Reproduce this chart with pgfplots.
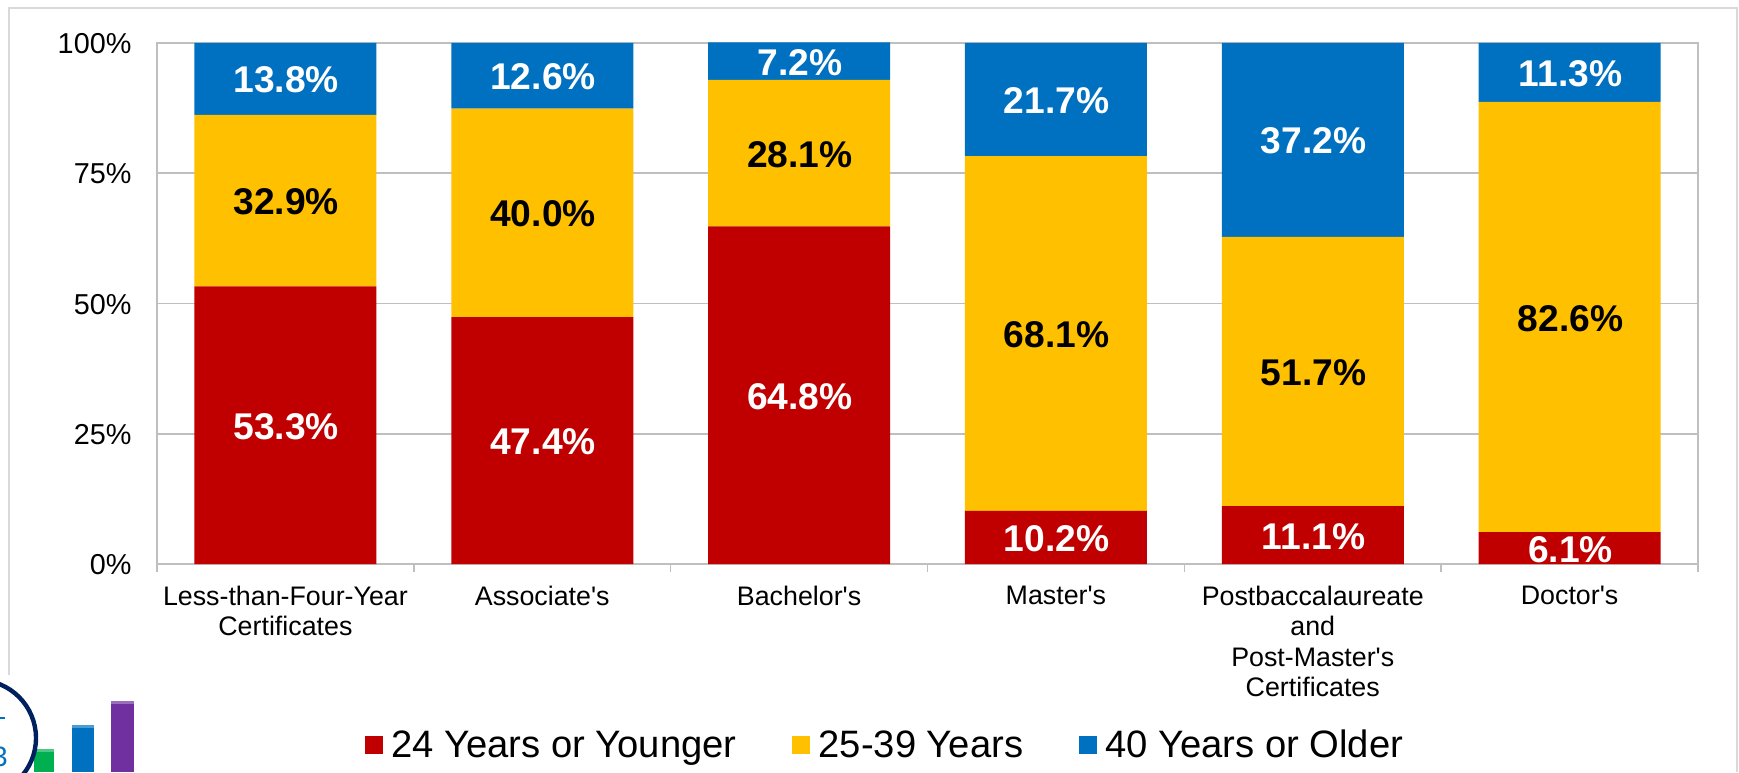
\documentclass[border=0pt]{standalone}
\usepackage{pgfplots}
\pgfplotsset{compat=1.18}
\usepackage{fontspec}
\setmainfont[Ligatures=TeXOff]{Liberation Sans}
\definecolor{cRed}{HTML}{C00000}
\definecolor{cYel}{HTML}{FFC000}
\definecolor{cBlu}{HTML}{0070C0}
\definecolor{cGrid}{HTML}{BFBFBF}
\definecolor{cFrame}{HTML}{D9D9D9}
\definecolor{cGrn}{HTML}{00B050}
\definecolor{cPur}{HTML}{7030A0}
\definecolor{cNavy}{HTML}{002060}
\pgfplotstableread{
x v24 v25 v40
0 53.3 32.9 13.8
1 47.4 40.0 12.6
2 64.8 28.1 7.2
3 10.2 68.1 21.7
4 11.1 51.7 37.2
5 6.1 82.6 11.3
}\shares
\pgfplotstableread{
x y v
0 26.65 53.3
1 23.7 47.4
2 32.4 64.8
3 5.1 10.2
4 5.55 11.1
5 3.05 6.1
}\labA
\pgfplotstableread{
x y v
0 69.75 32.9
1 67.4 40.0
2 78.85 28.1
3 44.25 68.1
4 36.95 51.7
5 47.4 82.6
}\labB
\pgfplotstableread{
x y v
0 93.1 13.8
1 93.7 12.6
2 96.4 7.2
3 89.15 21.7
4 81.4 37.2
5 94.35 11.3
}\labC
\begin{document}
\begin{tikzpicture}[x=0.5pt,y=0.5pt]
\path[use as bounding box] (0,0) rectangle (1739,772);
% frame
\draw[cFrame,line width=0.8pt] (9,97) -- (9,764) -- (1737,764) -- (1737,0);
% logo fragment
\begin{scope}
\clip (0,0) rectangle (1739,772);
\fill[cGrn] (34,0) rectangle (54,23);
\fill[cGrn!70!white] (34,20) rectangle (54,23);
\fill[cBlu] (72,0) rectangle (94,47);
\fill[cBlu!70!white] (72,44) rectangle (94,47);
\fill[cPur] (111,0) rectangle (134,71);
\fill[cPur!70!white] (111,68) rectangle (134,71);
\fill[white] (-22,34) circle (58);
\draw[cNavy,line width=2.2pt] (-22,34) circle (58);
\fill[cBlu] (0,53) rectangle (5,55);
\node[text=cBlu,font=\fontsize{14}{14}\selectfont,anchor=east,inner sep=0pt] at (8,15) {3};
\end{scope}
\begin{axis}[
  at={(78.5pt,104pt)}, anchor=south west,
  scale only axis, width=770.5pt, height=260.5pt,
  ybar stacked, bar width=91pt,
  xmin=-0.5, xmax=5.5, ymin=0, ymax=100,
  xtick={0,1,2,3,4,5},
  xticklabels={{Less-than-Four-Year\\Certificates},{Associate's},{Bachelor's},{Master's},{Postbaccalaureate\\and\\Post-Master's\\Certificates},{Doctor's}},
  minor xtick={-0.5,0.5,1.5,2.5,3.5,4.5,5.5},
  ytick={0,25,50,75,100},
  yticklabels={0\%,25\%,50\%,75\%,100\%},
  major tick length=0pt,
  minor tick length=4pt,
  tick align=outside,
  xtick pos=bottom, ytick pos=left,
  minor tick style={cGrid,line width=0.75pt},
  axis line style={cGrid,line width=0.75pt},
  ymajorgrids, grid style={cGrid,line width=0.75pt},
  x tick label style={font=\fontsize{13.4}{15.3}\selectfont,align=center,anchor=north,yshift=-10.6pt,inner sep=0pt},
  y tick label style={font=\fontsize{14.4}{14.4}\selectfont,anchor=east,xshift=-12.6pt,yshift=-0.4pt,inner sep=0pt},
  legend style={at={(0.473,-0.348)},anchor=center,draw=none,fill=none,legend columns=3,
    font=\fontsize{19.1}{20}\selectfont,inner sep=0pt,
    /tikz/every even column/.append style={column sep=25.8pt},
    /tikz/every odd column/.append style={column sep=2.2pt}},
  legend cell align=left,
  legend image code/.code={\fill[#1] (0pt,-4.5pt) rectangle (9pt,4.5pt);},
]
\addplot[fill=cRed,draw=none] table[x=x,y=v24] {\shares};
\addplot[fill=cYel,draw=none] table[x=x,y=v25] {\shares};
\addplot[fill=cBlu,draw=none] table[x=x,y=v40] {\shares};
\legend{24 Years or Younger,25-39 Years,40 Years or Older}
\end{axis}
\begin{axis}[
  at={(78.5pt,104pt)}, anchor=south west,
  scale only axis, width=770.5pt, height=260.5pt,
  xmin=-0.5, xmax=5.5, ymin=0, ymax=100,
  hide axis, clip=false,
  nodes near coords={\pgfmathprintnumber[fixed,fixed zerofill,precision=1,assume math mode=true]{\pgfplotspointmeta}\%},
  point meta=explicit,
  every node near coord/.append style={anchor=center,inner sep=0pt,yshift=-0.6pt,xshift=0.4pt,font=\fontsize{18.6}{20}\bfseries\selectfont},
]
\addplot[draw=none,mark=none,nodes near coords style={text=white}] table[x=x,y=y,meta=v] {\labA};
\addplot[draw=none,mark=none,nodes near coords style={text=black}] table[x=x,y=y,meta=v] {\labB};
\addplot[draw=none,mark=none,nodes near coords style={text=white}] table[x=x,y=y,meta=v] {\labC};
\end{axis}
\end{tikzpicture}
\end{document}
